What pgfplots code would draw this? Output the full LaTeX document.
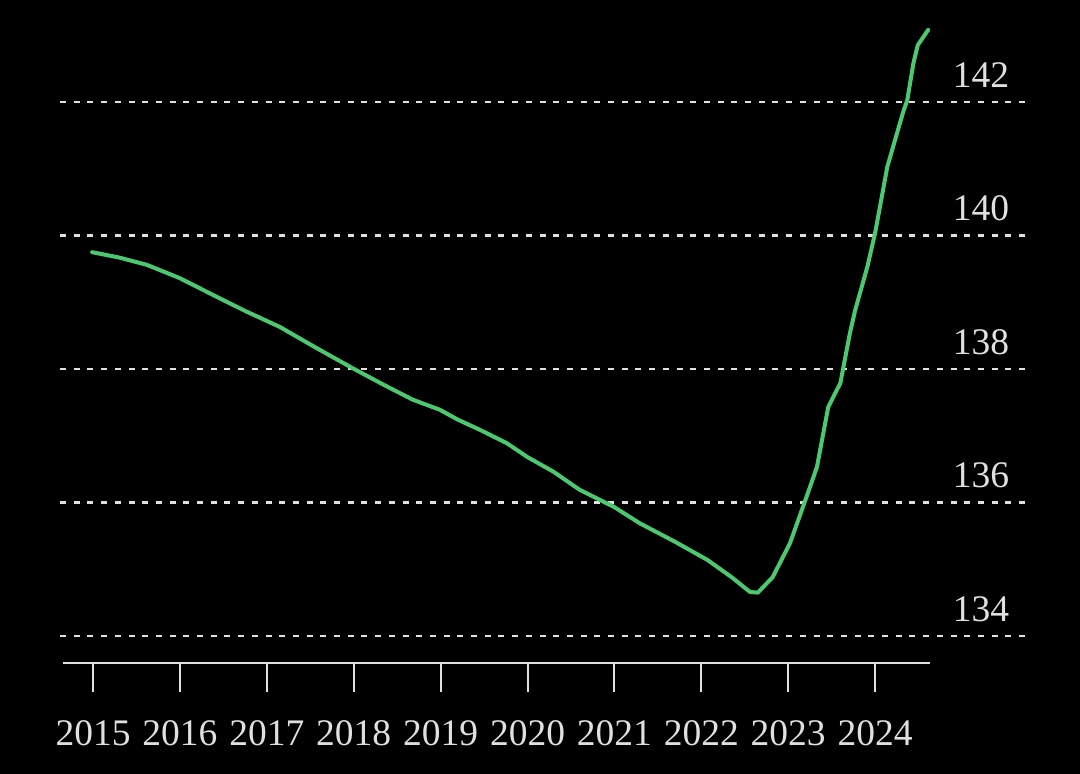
\documentclass[border=0pt]{standalone}
\usepackage{fontspec}
\setmainfont{Liberation Serif}
\usepackage{pgfplots}
\pgfplotsset{compat=1.18}

\definecolor{linegreen}{RGB}{76,200,112}
\definecolor{lightgrey}{RGB}{224,224,224}

\begin{document}
\begin{tikzpicture}[x=1pt,y=1pt]
\fill[black] (0,0) rectangle (540,387);
\begin{axis}[
    at={(30pt,55.5pt)}, anchor=south west,
    scale only axis,
    width=485pt, height=331.5pt,
    xmin=2014.620, xmax=2025.782,
    ymin=133.596, ymax=143.528,
    clip=false,
    axis line style={draw=none},
    xtick={2015,2016,...,2024},
    ytick={134,136,138,140,142},
    xtick pos=left,
    ytick pos=right,
    yticklabel pos=right,
    tick align=outside,
    major tick length=14.5pt,
    xtick style={draw=lightgrey, line width=1pt},
    ytick style={draw=none},
    ymajorgrids,
    grid style={draw=lightgrey, line width=1.2pt, dash pattern=on 3pt off 3.85pt},
    xticklabel={\pgfmathprintnumber[precision=0,1000 sep={}]{\tick}},
    /pgf/number format/assume math mode=true,
    ticklabel style={font=\fontsize{18.75}{22}\selectfont, text=lightgrey},
    xticklabel style={anchor=center, yshift=-20.5pt},
    yticklabel style={anchor=center, xshift=-39pt, yshift=13.5pt},
]
\draw[lightgrey, line width=1pt] (axis cs:2014.655,133.596) -- (axis cs:2024.632,133.596);
\addplot[linegreen, line width=2pt, line join=round, line cap=round] coordinates {
    (2014.99,139.75) (2015.30,139.67) (2015.62,139.56) (2016.00,139.36)
    (2016.38,139.11) (2016.75,138.87) (2017.15,138.63) (2017.55,138.33)
    (2017.99,138.01) (2018.35,137.76) (2018.68,137.54) (2018.99,137.39)
    (2019.20,137.24) (2019.45,137.09) (2019.76,136.89) (2020.00,136.68)
    (2020.30,136.46) (2020.60,136.19) (2021.00,135.93) (2021.29,135.69)
    (2021.70,135.41) (2022.07,135.14) (2022.35,134.88) (2022.56,134.66)
    (2022.65,134.65) (2022.82,134.88) (2023.02,135.39) (2023.19,136.01)
    (2023.33,136.53) (2023.46,137.43) (2023.60,137.79) (2023.71,138.54)
    (2023.77,138.88) (2023.91,139.53) (2024.00,140.04) (2024.14,141.03)
    (2024.32,141.84) (2024.37,142.03) (2024.44,142.58) (2024.49,142.85)
    (2024.61,143.08)
};
\end{axis}
\pgfresetboundingbox
\path (0,0) rectangle (540,387);
\end{tikzpicture}
\end{document}
